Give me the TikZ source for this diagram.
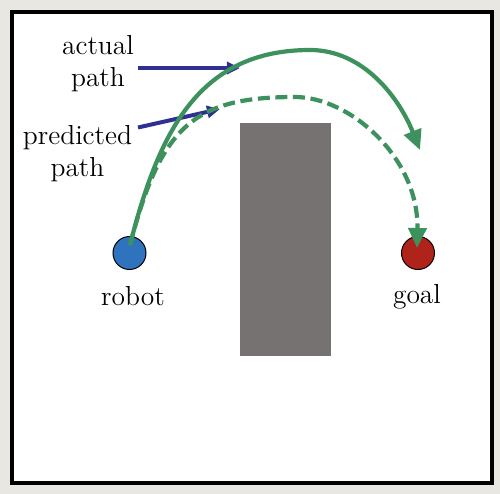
\documentclass[tikz,border=0pt]{standalone}
\usetikzlibrary{arrows.meta}

\definecolor{paper}{RGB}{233,231,226}
\definecolor{pathgreen}{RGB}{60,145,92}
\definecolor{pointerblue}{RGB}{46,49,146}
\definecolor{robotblue}{RGB}{47,114,189}
\definecolor{goalred}{RGB}{176,35,26}
\definecolor{wallgray}{RGB}{118,114,113}

\begin{document}
\begin{tikzpicture}
  [x=5pt,y=-5pt,
   labeltext/.style={font=\fontsize{13.75}{16}\selectfont,inner sep=1pt,align=center},
   disc/.style={circle,draw=black,line width=0.5pt,inner sep=0pt,minimum size=16.5pt},
   route/.style={draw=pathgreen,line width=2.1pt,-{Triangle[length=10pt,width=9pt]}},
   pointer/.style={draw=pointerblue,line width=2pt,-{Triangle[length=6.5pt,width=6pt]}}]
  % paper and frame
  \fill[paper] (0,0) rectangle (50,49.4);
  \draw[fill=white,line width=2pt] (1.2,1.2) rectangle (49.2,48.25);
  % obstacle
  \fill[wallgray] (24,12.3) rectangle (33.1,35.6);
  % robot and goal
  \node (robot) at (12.95,25.3) [disc,fill=robotblue] {};
  \node (goal) at (41.8,25.3) [disc,fill=goalred] {};
  \node (robotlbl) at (13.3,29.65) [labeltext] {robot};
  \node (goallbl) at (41.7,29.65) [labeltext] {goal};
  % labels of the two paths
  \node (actuallbl) at (9.8,6.33) [labeltext] {actual\\path};
  \node (predlbl) at (7.75,15.4) [labeltext] {predicted\\path};
  \coordinate (actualtail) at (13.8,6.8);
  \coordinate (actualtip) at (24,6.8);
  \coordinate (predtail) at (13.8,12.75);
  \coordinate (predtip) at (22,10.9);
  \draw[pointer] (actualtail) -- (actualtip);
  \draw[pointer] (predtail) -- (predtip);
  % paths
  \coordinate (start) at (13,24.5);
  \coordinate (actualend) at (42,15);
  \coordinate (goaltip) at (41.7,24.8);
  \draw[route] (start) .. controls (15.9,13) and (20,5) .. (31,5)
    .. controls (36.5,5) and (40,10) .. (actualend);
  \draw[route,dash pattern=on 6pt off 2.8pt] (start) .. controls (16.1,12.5) and (19.5,9.7) .. (29.5,9.7)
    .. controls (35,9.7) and (41.9,15.8) .. (goaltip);
\end{tikzpicture}
\end{document}
